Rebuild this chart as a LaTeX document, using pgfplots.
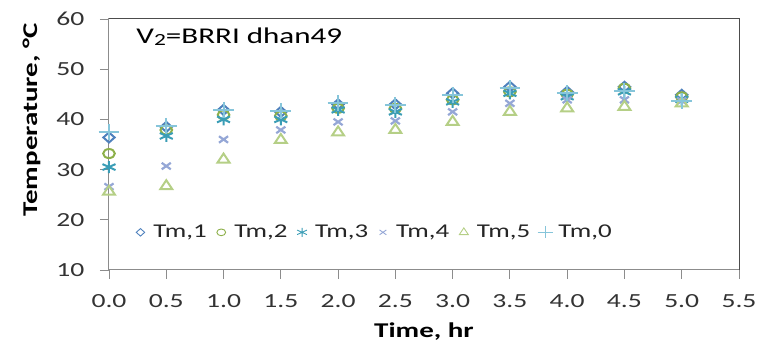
\documentclass[border=0pt]{standalone}
\usepackage{fontspec}
\setmainfont{Carlito}[FakeStretch=1.38]
\usepackage{pgfplots}
\pgfplotsset{compat=1.18}
\definecolor{cA}{HTML}{4F81BD}
\definecolor{cB}{HTML}{8DB04A}
\definecolor{cC}{HTML}{3A9DB6}
\definecolor{cD}{HTML}{95A7D6}
\definecolor{cE}{HTML}{B5CF86}
\definecolor{cF}{HTML}{86C5DA}
\definecolor{axgray}{HTML}{8C8C8C}
\begin{document}
\begin{tikzpicture}
\path[use as bounding box] (-109pt,-72pt) rectangle (657pt,270pt);
\begin{axis}[
  at={(0,0)}, anchor=south west,
  scale only axis, width=630pt, height=251pt,
  xmin=0, xmax=5.5, ymin=10, ymax=60,
  xtick={0,0.5,1,1.5,2,2.5,3,3.5,4,4.5,5,5.5},
  ytick={10,20,30,40,50,60},
  clip=false,
  axis line style={draw=axgray, line width=1pt},
  tick pos=left, tick align=outside, major tick length=9pt,
  tick style={draw=axgray, line width=0.9pt},
  /pgf/number format/assume math mode=true,
  tick label style={font=\fontsize{20}{24}\selectfont, color=black!80},
  xticklabel style={yshift=-12pt, /pgf/number format/.cd, fixed, fixed zerofill, precision=1},
  yticklabel style={xshift=-12pt},
  xlabel={\bfseries Time, hr},
  ylabel={\bfseries Temperature, °C},
  label style={font=\fontsize{21}{25}\selectfont, color=black},
  xlabel style={at={(axis description cs:0.5,-0.27)}, anchor=base},
  ylabel style={at={(axis description cs:-0.114,0.598)}, anchor=base},
  legend columns=6,
  legend style={at={(axis description cs:0.42,0.15)}, anchor=center, draw=none, fill=none,
    font=\fontsize{19.5}{23}\selectfont, text=black!85,
    /tikz/every even column/.append style={column sep=5.5pt}},
  legend image code/.code={\path (-6pt,0pt) (10pt,0pt);
    \draw[#1, /tikz/every mark/.append style={line width=0.9pt, scale=0.75}] plot coordinates {(0pt,0pt)};},
]
\addplot[only marks, draw=cA, mark=diamond, mark size=5pt, line width=2pt, mark options={xscale=1.5}]
  coordinates {(0,36.4)(0.5,38.5)(1,41.9)(1.5,41.5)(2,43.0)(2.5,43.0)(3,45.2)(3.5,46.5)(4,45.5)(4.5,46.5)(5,44.9)};
\addlegendentry{Tm,1}
\addplot[only marks, draw=cB, mark=o, mark size=4.5pt, line width=2pt, mark options={xscale=1.3}]
  coordinates {(0,33.2)(0.5,37.9)(1,40.9)(1.5,40.7)(2,42.2)(2.5,42.2)(3,43.9)(3.5,45.5)(4,45.0)(4.5,46.2)(5,44.5)};
\addlegendentry{Tm,2}
\addplot[only marks, draw=cC, mark=asterisk, mark size=6pt, line width=2pt, mark options={xscale=1.25}]
  coordinates {(0,30.5)(0.5,36.7)(1,40.0)(1.5,40.0)(2,41.9)(2.5,41.5)(3,43.5)(3.5,45.2)(4,44.5)(4.5,45.5)(5,44.0)};
\addlegendentry{Tm,3}
\addplot[only marks, draw=cD, mark=x, mark size=4.6pt, line width=2.2pt, mark options={xscale=1.4}]
  coordinates {(0,26.6)(0.5,30.7)(1,36.0)(1.5,37.9)(2,39.5)(2.5,39.7)(3,41.5)(3.5,43.2)(4,43.9)(4.5,43.9)(5,43.7)};
\addlegendentry{Tm,4}
\addplot[only marks, draw=cE, mark=triangle, mark size=6pt, line width=2pt, mark options={xscale=1.15}]
  coordinates {(0,25.6)(0.5,26.7)(1,32.0)(1.5,35.9)(2,37.4)(2.5,37.9)(3,39.5)(3.5,41.5)(4,42.2)(4.5,42.5)(5,43.2)};
\addlegendentry{Tm,5}
\addplot[only marks, draw=cF, mark=+, mark size=8pt, line width=2pt, mark options={xscale=1.3}]
  coordinates {(0,37.5)(0.5,38.7)(1,41.9)(1.5,41.7)(2,43.2)(2.5,42.9)(3,44.9)(3.5,46.2)(4,45.2)(4.5,45.7)(5,43.7)};
\addlegendentry{Tm,0}
\draw[black!70, line width=1pt] (rel axis cs:0,1) -- (rel axis cs:1,1) -- (rel axis cs:1,0);
\node[anchor=base west, font=\fontsize{22.5}{26}\selectfont, text=black] at (axis description cs:0.038,0.904)
  {V\raisebox{-0.25ex}{\fontsize{17}{17}\selectfont 2}=BRRI dhan49};
\end{axis}
\end{tikzpicture}
\end{document}
